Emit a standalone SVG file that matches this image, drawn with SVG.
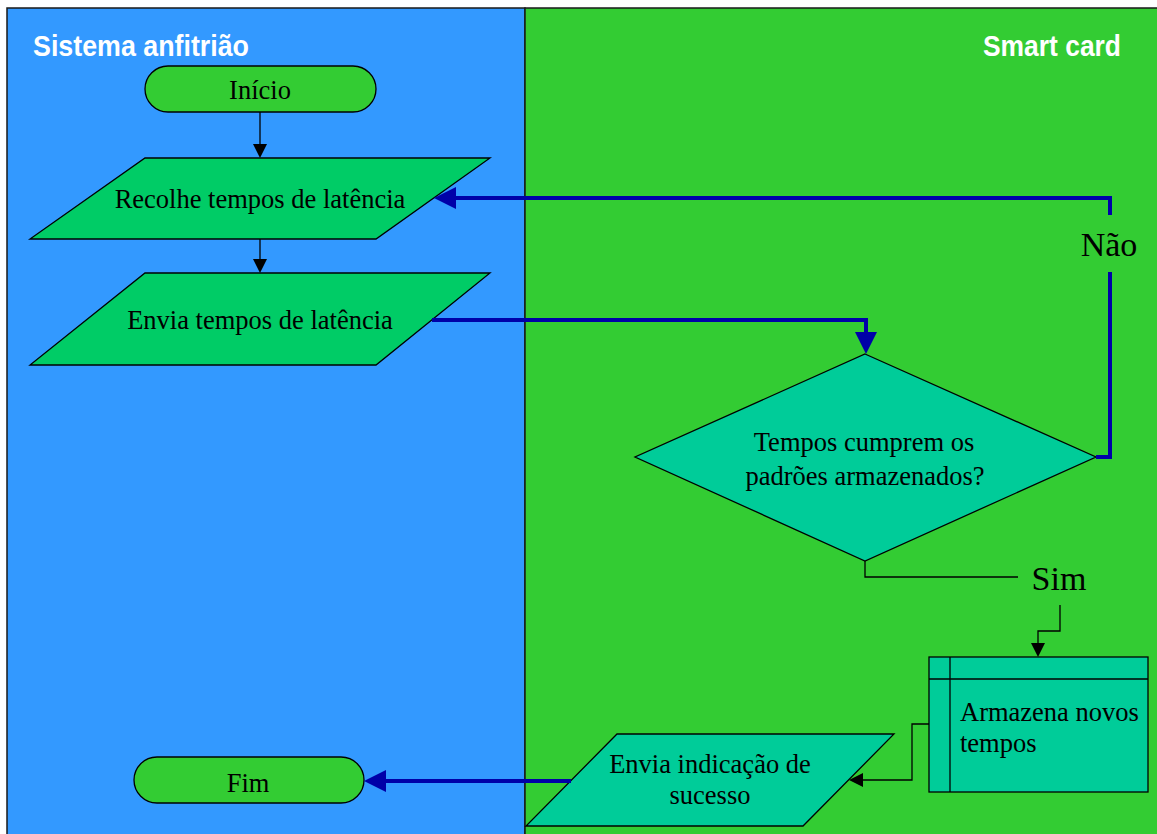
<svg xmlns="http://www.w3.org/2000/svg" width="1157" height="834" viewBox="0 0 1157 834">
<style>
.t{font-family:"Liberation Serif","Times New Roman",serif;font-size:26.5px;fill:#000}
.lbl{font-family:"Liberation Serif","Times New Roman",serif;font-size:34px;fill:#000}
.h{font-family:"Liberation Sans",Arial,sans-serif;font-weight:bold;font-size:29.5px;fill:#fff}
.sh{stroke:#000;stroke-width:1.3}
.bl{fill:none;stroke:#0000a8;stroke-width:4}
.bk{fill:none;stroke:#000;stroke-width:1.3}
</style>
<defs>
<marker id="ab" markerUnits="userSpaceOnUse" markerWidth="22" markerHeight="22" refX="12" refY="11" orient="auto" viewBox="0 0 22 22"><path d="M0,0 L22,11 L0,22 z" fill="#0000a8"/></marker>
<marker id="ak" markerUnits="userSpaceOnUse" markerWidth="14" markerHeight="14" refX="8" refY="7" orient="auto" viewBox="0 0 14 14"><path d="M0,0 L14,7 L0,14 z" fill="#000"/></marker>
</defs>
<rect x="0" y="0" width="1157" height="834" fill="#fff"/>
<g id="lanes">
<rect x="7" y="8" width="518" height="830" fill="#3399ff" stroke="#1a1a1a" stroke-width="1.5"/>
<rect x="525" y="8" width="640" height="830" fill="#33cc33" stroke="#1a1a1a" stroke-width="1.5"/>
<text class="h" x="33" y="56" textLength="216" lengthAdjust="spacingAndGlyphs">Sistema anfitrião</text>
<text class="h" x="983" y="56" textLength="138" lengthAdjust="spacingAndGlyphs">Smart card</text>
</g>
<g id="inicio">
<rect class="sh" x="145" y="66" width="231" height="46" rx="23" fill="#33cc33"/>
<text class="t" x="260" y="99" text-anchor="middle">Início</text>
</g>
<g id="recolhe">
<polygon class="sh" points="145,158 490,158 376,239 30,239" fill="#00cc66"/>
<text class="t" x="260" y="208" text-anchor="middle">Recolhe tempos de latência</text>
</g>
<g id="envia">
<polygon class="sh" points="145,273 490,273 376,365 30,365" fill="#00cc66"/>
<text class="t" x="260" y="329" text-anchor="middle">Envia tempos de latência</text>
</g>
<g id="decisao">
<polygon class="sh" points="865,354 1096,457 865,561 635,457" fill="#00cc99"/>
<text class="t" x="864" y="451" text-anchor="middle">Tempos cumprem os</text>
<text class="t" x="865" y="485" text-anchor="middle">padrões armazenados?</text>
</g>
<g id="armazena">
<rect class="sh" x="929" y="657" width="219" height="135" fill="#00cc99"/>
<line class="sh" x1="950" y1="657" x2="950" y2="792"/>
<line class="sh" x1="929" y1="679" x2="1148" y2="679"/>
<text class="t" x="960" y="721">Armazena novos</text>
<text class="t" x="960" y="752">tempos</text>
</g>
<g id="indicacao">
<polygon class="sh" points="617,734 894,734 803,826 526,826" fill="#00cc99"/>
<text class="t" x="710" y="773" text-anchor="middle">Envia indicação de</text>
<text class="t" x="710" y="804" text-anchor="middle">sucesso</text>
</g>
<g id="fim">
<rect class="sh" x="134" y="757" width="230" height="46" rx="23" fill="#33cc33"/>
<text class="t" x="248" y="792" text-anchor="middle">Fim</text>
</g>
<g id="connectors">
<path class="bk" d="M260,112 V152" marker-end="url(#ak)"/>
<path class="bk" d="M260,239 V267" marker-end="url(#ak)"/>
<path class="bl" d="M432,320 H866 V344" marker-end="url(#ab)"/>
<path class="bl" d="M1096,457 H1110 V272"/>
<path class="bl" d="M1110,215 V198 H444" marker-end="url(#ab)"/>
<path class="bk" d="M865,561 V577 H1018"/>
<path class="bk" d="M1060,605 V631 H1038 V651" marker-end="url(#ak)"/>
<path class="bk" d="M929,724 H912 V780 H855" marker-end="url(#ak)"/>
<path class="bl" d="M571,781 H374" marker-end="url(#ab)"/>
<text class="lbl" x="1109" y="256" text-anchor="middle">Não</text>
<text class="lbl" x="1059" y="590" text-anchor="middle">Sim</text>
</g>
</svg>
